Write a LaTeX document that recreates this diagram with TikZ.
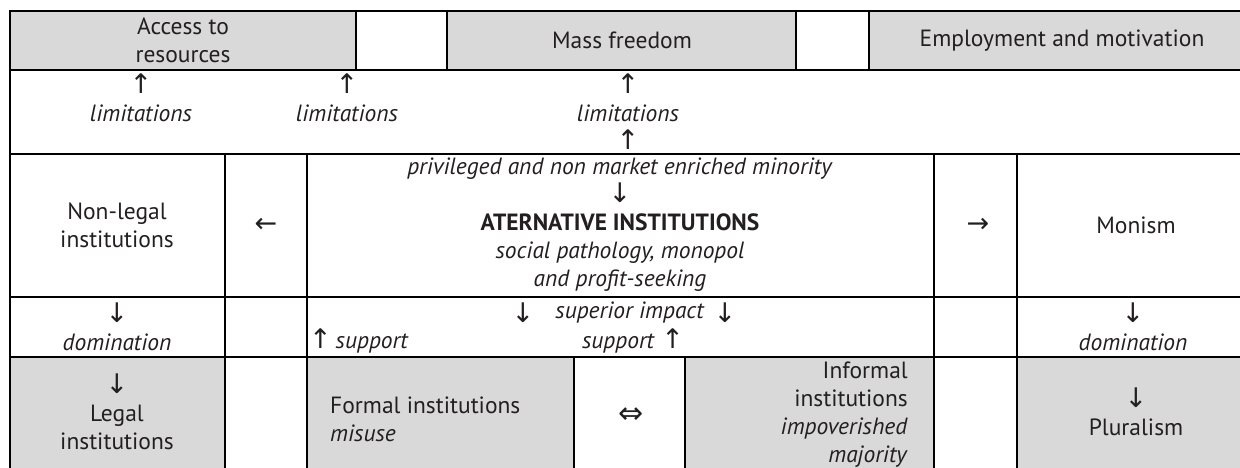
\documentclass[tikz,border=0pt]{standalone}
\usepackage{fontspec}
\setmainfont{PT Sans}
\newfontfamily\arr{DejaVu Sans}
\usetikzlibrary{fit}
\definecolor{cellgray}{HTML}{D9D9D9}
\definecolor{ink}{HTML}{231F20}
\tikzset{
  cell/.style={draw=black, line width=1.6pt, inner sep=0pt, outer sep=0pt},
  gcell/.style={cell, fill=cellgray},
  txt/.style={inner sep=0pt, align=center, text=ink, font=\fontsize{23.5}{28}\selectfont},
}
\newcommand{\ua}{{\arr\fontsize{27}{28}\selectfont ↑}}
\newcommand{\da}{{\arr\fontsize{27}{28}\selectfont ↓}}
\begin{document}
\begin{tikzpicture}[x=1pt,y=-1pt]
\useasboundingbox (0,0) rectangle (1240,468);
% row 1
\node[gcell, fit={(10,11)(356,70)}] (r1a) {};
\node[cell, fit={(356,11)(447,70)}] (r1b) {};
\node[gcell, fit={(447,11)(796,70)}] (r1c) {};
\node[cell, fit={(796,11)(869,70)}] (r1d) {};
\node[gcell, fit={(869,11)(1256,70)}] (r1e) {};
% row 2
\node[cell, fit={(10,70)(1256,154)}] (r2) {};
% row 3
\node[cell, fit={(10,154)(225,297)}] (r3a) {};
\node[cell, fit={(225,154)(307,297)}] (r3b) {};
\node[cell, fit={(307,154)(934,297)}] (r3c) {};
\node[cell, fit={(934,154)(1017,297)}] (r3d) {};
\node[cell, fit={(1017,154)(1256,297)}] (r3e) {};
% row 4
\node[cell, fit={(10,297)(225,357)}] (r4a) {};
\node[cell, fit={(225,297)(307,357)}] (r4b) {};
\node[cell, fit={(307,297)(934,357)}] (r4c) {};
\node[cell, fit={(934,297)(1017,357)}] (r4d) {};
\node[cell, fit={(1017,297)(1256,357)}] (r4e) {};
% row 5
\node[gcell, fit={(10,357)(225,490)}] (r5a) {};
\node[cell, fit={(225,357)(307,490)}] (r5b) {};
\node[gcell, fit={(307,357)(574,490)}] (r5c) {};
\node[cell, fit={(574,357)(685,490)}] (r5d) {};
\node[gcell, fit={(685,357)(934,490)}] (r5e) {};
\node[cell, fit={(934,357)(1017,490)}] (r5f) {};
\node[gcell, fit={(1017,357)(1256,490)}] (r5g) {};

% texts row 1
\node[txt] (tacc) at (183,40.5) {Access to\\resources};
\node[txt] (tmass) at (622,40.5) {Mass freedom};
\node[txt] (temp) at (1062,40.5) {Employment and motivation};
% row 2
\node[txt] (tl1) at (141,98) {\ua\\\textit{limitations}};
\node[txt] (tl2) at (347,98) {\ua\\\textit{limitations}};
\node[txt] (tl3) at (628,112) {\ua\\\textit{limitations}\\\ua};
% row 3
\node[txt] (tnon) at (117,225) {Non-legal\\institutions};
\node[txt] (tla) at (266,225) {{\arr\fontsize{27}{28}\selectfont ←}};
\node[txt] (talt) at (620,225) {\textit{privileged and non market enriched minority}\\\da\\\textbf{ATERNATIVE INSTITUTIONS}\\\textit{social pathology, monopol}\\\textit{and profit-seeking}};
\node[txt] (tra) at (978,225) {{\arr\fontsize{27}{28}\selectfont →}};
\node[txt] (tmon) at (1136,225) {Monism};
% row 4
\node[txt] (tdom1) at (117,327) {\da\\\textit{domination}};
\node[txt] (tsupa) at (523,313) {\da};
\node[txt] (tsup) at (630,313) {\textit{superior impact}};
\node[txt] (tsupb) at (725,313) {\da};
\node[txt, anchor=west] (tsl) at (309,341) {\ua\,\textit{support}};
\node[txt] (tsr) at (633,341) {\textit{support} \ua};
\node[txt] (tdom2) at (1133,327) {\da\\\textit{domination}};
% row 5
\node[txt] (tleg) at (117,412) {\da\\Legal\\institutions};
\node[txt, anchor=west, align=left] (tfor) at (330,419) {Formal institutions\\\textit{misuse}};
\node[txt] (tdbl) at (631,416) {{\arr\fontsize{30}{28}\selectfont ⇔}};
\node[txt, anchor=east, align=right] (tinf) at (908,415) {Informal\\institutions\\\textit{impoverished}\\\textit{majority}};
\node[txt] (tplu) at (1136,412) {\da\\Pluralism};
\end{tikzpicture}
\end{document}
